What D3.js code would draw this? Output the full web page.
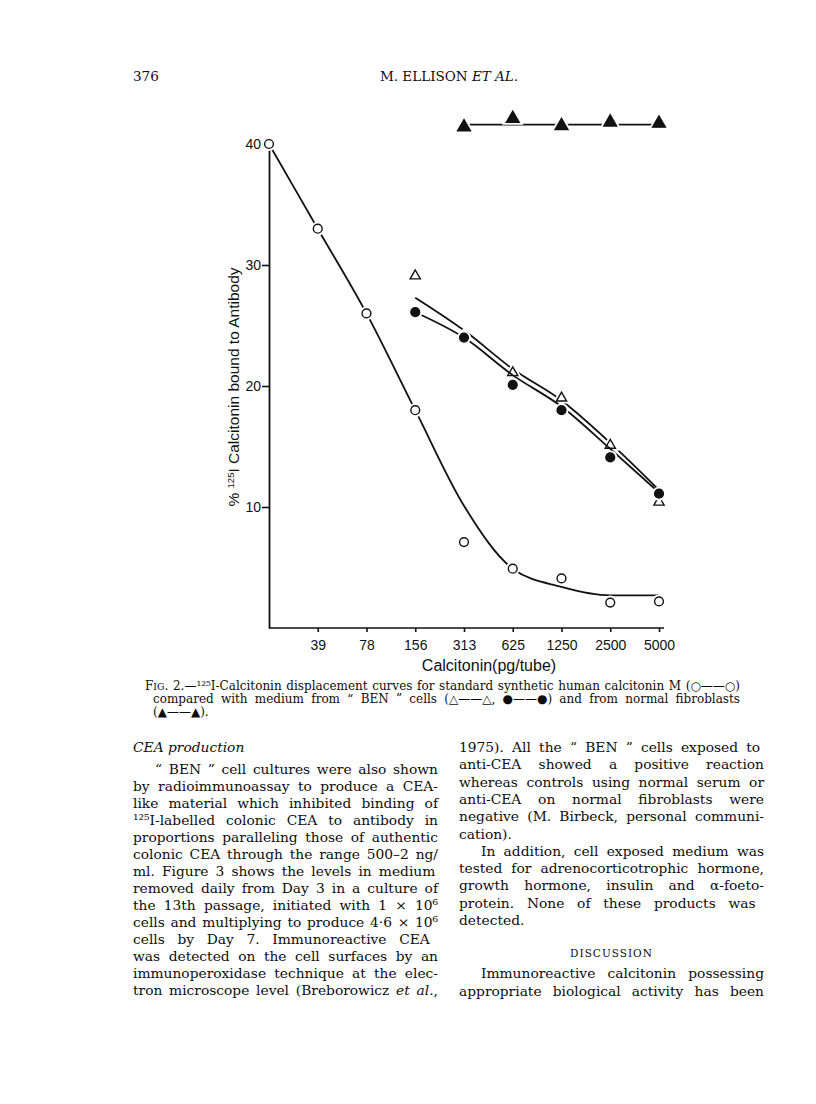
<!DOCTYPE html>
<html>
  <head>
    <meta charset="utf-8">
    <script src="https://d3js.org/d3.v7.min.js"></script>
    <style>
body { margin: 0; background: white; }
svg { display: block; }
.page { font-family: "DejaVu Serif", serif; fill: #0d0d0d; }
.fig text { font-family: "Liberation Sans", Arial, sans-serif; fill: #111; }
    </style>
  </head>
  <body>
    <script>
// doses on the x axis (pg/tube); "0" is the zero tube sitting on the y axis
var doses = ["0", "39", "78", "156", "313", "625", "1250", "2500", "5000"];
var yTicks = [10, 20, 30, 40];

// standard synthetic human calcitonin M (open circles) and its fitted curve
var standardPoints = [40, 33, 26, 18, 7.1, 4.9, 4.1, 2.1, 2.2];
var standardCurve = [40, 33, 26, 18, 10.1, 4.9, 3.4, 2.7, 2.7];

// medium from "BEN" cells
var benDoses = ["156", "313", "625", "1250", "2500", "5000"];
var benTriangles = [29.1, 24.0, 21.1, 19.0, 15.1, 10.4];
var benTriangleLine = [27.3, 24.6, 21.4, 18.8, 15.3, 11.4];
var benCircles = [26.1, 24.0, 20.1, 18.0, 14.1, 11.1];
var benCircleLine = [26.1, 24.0, 20.9, 18.3, 14.8, 11.2];

// medium from normal fibroblasts
var fibroDoses = ["313", "625", "1250", "2500", "5000"];
var fibroTriangles = [41.4, 42.1, 41.5, 41.8, 41.7];
var fibroLine = [41.6, 41.6, 41.6, 41.6, 41.6];

var svg = d3.select("body").append("svg").attr("width", 816).attr("height", 1104);
svg.append("rect").attr("width", 816).attr("height", 1104).style("fill", "white");

var x = d3.scalePoint().domain(doses).range([269, 659]);
var y = d3.scaleLinear().domain([0, 40]).range([628, 144]);

var fig = svg.append("g").attr("class", "fig");

// axes
var yAxis = fig.append("g").attr("transform", "translate(" + x("0") + ",0)")
	.call(d3.axisLeft(y).tickValues(yTicks).tickSize(7).tickPadding(1).tickSizeOuter(0));
var xAxis = fig.append("g").attr("transform", "translate(0," + y(0) + ")")
	.call(d3.axisBottom(x).tickValues(doses.slice(1)).tickSize(4).tickPadding(8).tickSizeOuter(0));
xAxis.select(".domain").remove();
xAxis.append("line").attr("x1", x.range()[0]).attr("x2", x.range()[1] + 5)
	.style("stroke", "#111").style("stroke-width", 1.8);
[yAxis, xAxis].forEach(function (a) {
	a.selectAll("text").style("font-size", "14px").style("fill", "#111");
	a.selectAll("line").style("stroke", "#111").style("stroke-width", 1.6);
	a.selectAll(".domain").style("stroke", "#111").style("stroke-width", 1.8);
});

var yl = fig.append("text").attr("transform", "translate(239,387) rotate(-90)")
	.attr("text-anchor", "middle").style("font-size", "15.5px");
yl.append("tspan").text("% ");
yl.append("tspan").text("125").style("font-size", "9.5px").attr("baseline-shift", "super");
yl.append("tspan").text("I Calcitonin bound to Antibody");

fig.append("text").attr("x", 489).attr("y", 671).attr("text-anchor", "middle")
	.style("font-size", "16px").text("Calcitonin(pg/tube)");

function rows(ds, vs) {
	return ds.map(function (d, i) { return { dose: d, v: vs[i] }; });
}

var line = d3.line()
	.x(function (d) { return x(d.dose); })
	.y(function (d) { return y(d.v); })
	.curve(d3.curveMonotoneX);

var tri = d3.symbol(d3.symbolTriangle, 45);
var bigTri = d3.symbol(d3.symbolTriangle, 72);

function series(lineRows, pointRows, kind) {
	var g = fig.append("g");
	g.append("path").attr("d", line(lineRows))
		.style("fill", "none").style("stroke", "#111").style("stroke-width", 1.8);
	var pts = g.selectAll("g.pt").data(pointRows).enter().append("g")
		.attr("transform", function (d) { return "translate(" + x(d.dose) + "," + y(d.v) + ")"; });
	if (kind == "open" || kind == "dot") {
		pts.append("circle").attr("r", 7).style("fill", "white");
		pts.append("circle").attr("r", 4.4)
			.style("fill", kind == "open" ? "white" : "#111")
			.style("stroke", "#111").style("stroke-width", 1.4);
	} else {
		var sym = kind == "tri" ? tri : bigTri;
		pts.append("path").attr("d", sym).style("fill", "white")
			.style("stroke", "white").style("stroke-width", 5);
		pts.append("path").attr("d", sym)
			.style("fill", kind == "tri" ? "white" : "#111")
			.style("stroke", "#111").style("stroke-width", 1.4);
	}
}

series(rows(doses, standardCurve), rows(doses, standardPoints), "open");
series(rows(benDoses, benTriangleLine), rows(benDoses, benTriangles), "tri");
series(rows(benDoses, benCircleLine), rows(benDoses, benCircles), "dot");
series(rows(fibroDoses, fibroLine), rows(fibroDoses, fibroTriangles), "bigtri");

// ---- page text ----
var page = svg.append("g").attr("class", "page");

// "_" toggles italic, "~" toggles small caps
function addLine(x0, yy, str, size, width) {
	var t = page.append("text").attr("x", x0).attr("y", yy).style("font-size", size + "px");
	var it = false, sc = false;
	str.split(/([_~])/).forEach(function (s) {
		if (s == "_") { it = !it; return; }
		if (s == "~") { sc = !sc; return; }
		if (s == "") return;
		var ts = t.append("tspan").text(s);
		if (it) ts.style("font-style", "italic");
		if (sc) ts.style("font-size", (size * 0.78) + "px");
	});
	if (width) {
		var w = t.node().getComputedTextLength();
		var gaps = (str.match(/ /g) || []).length;
		if (w < width && gaps > 0) {
			t.style("word-spacing", ((width - w) / gaps) + "px");
		} else if (w > width) {
			t.attr("textLength", width).attr("lengthAdjust", "spacingAndGlyphs");
		}
	}
	return t;
}

addLine(133, 81, "376", 13.5);
addLine(449, 81, "M. ELLISON _ET AL._", 13.5).attr("text-anchor", "middle");

var captionLines = [
	"F~IG~. 2.—¹²⁵I-Calcitonin displacement curves for standard synthetic human calcitonin M (○——○)",
	"compared with medium from “ BEN ” cells (△——△, ●——●) and from normal fibroblasts",
	"(▲——▲)."
];
addLine(145, 690, captionLines[0], 12, 595);
addLine(153, 703, captionLines[1], 12, 587);
addLine(153, 716, captionLines[2], 12);

// body columns: [text, indent, justify]
var leftCol = [
	["“ BEN ” cell cultures were also shown", 1, 1],
	["by radioimmunoassay to produce a CEA-", 0, 1],
	["like material which inhibited binding of", 0, 1],
	["¹²⁵I-labelled colonic CEA to antibody in", 0, 1],
	["proportions paralleling those of authentic", 0, 1],
	["colonic CEA through the range 500–2 ng/", 0, 1],
	["ml.  Figure 3 shows the levels in medium", 0, 1],
	["removed daily from Day 3 in a culture of", 0, 1],
	["the 13th passage, initiated with 1 × 10⁶", 0, 1],
	["cells and multiplying to produce 4·6 × 10⁶", 0, 1],
	["cells by Day 7.  Immunoreactive CEA", 0, 1],
	["was detected on the cell surfaces by an", 0, 1],
	["immunoperoxidase technique at the elec-", 0, 1],
	["tron microscope level (Breborowicz _et al._,", 0, 1]
];
var rightCol = [
	["1975).  All the “ BEN ” cells exposed to", 0, 1],
	["anti-CEA showed a positive reaction", 0, 1],
	["whereas controls using normal serum or", 0, 1],
	["anti-CEA on normal fibroblasts were", 0, 1],
	["negative (M. Birbeck, personal communi-", 0, 1],
	["cation).", 0, 0],
	["In addition, cell exposed medium was", 1, 1],
	["tested for adrenocorticotrophic hormone,", 0, 1],
	["growth hormone, insulin and α-foeto-", 0, 1],
	["protein.  None of these products was", 0, 1],
	["detected.", 0, 0]
];
var rightTail = [
	["Immunoreactive calcitonin possessing", 1, 1],
	["appropriate biological activity has been", 0, 1]
];

var colW = 305, leftX = 133, rightX = 459, indent = 22, fs = 13.8;

addLine(leftX, 752, "_CEA production_", fs);
leftCol.forEach(function (l, i) {
	addLine(leftX + l[1] * indent, 774 + i * 17, l[0], fs, l[2] ? colW - l[1] * indent : 0);
});
rightCol.forEach(function (l, i) {
	addLine(rightX + l[1] * indent, 752 + i * 17.3, l[0], fs, l[2] ? colW - l[1] * indent : 0);
});
addLine(rightX + colW / 2, 957, "DISCUSSION", 10.5).attr("text-anchor", "middle")
	.style("letter-spacing", "1px");
rightTail.forEach(function (l, i) {
	addLine(rightX + l[1] * indent, 978 + i * 17.5, l[0], fs, l[2] ? colW - l[1] * indent : 0);
});
    </script>
  </body>
</html>
